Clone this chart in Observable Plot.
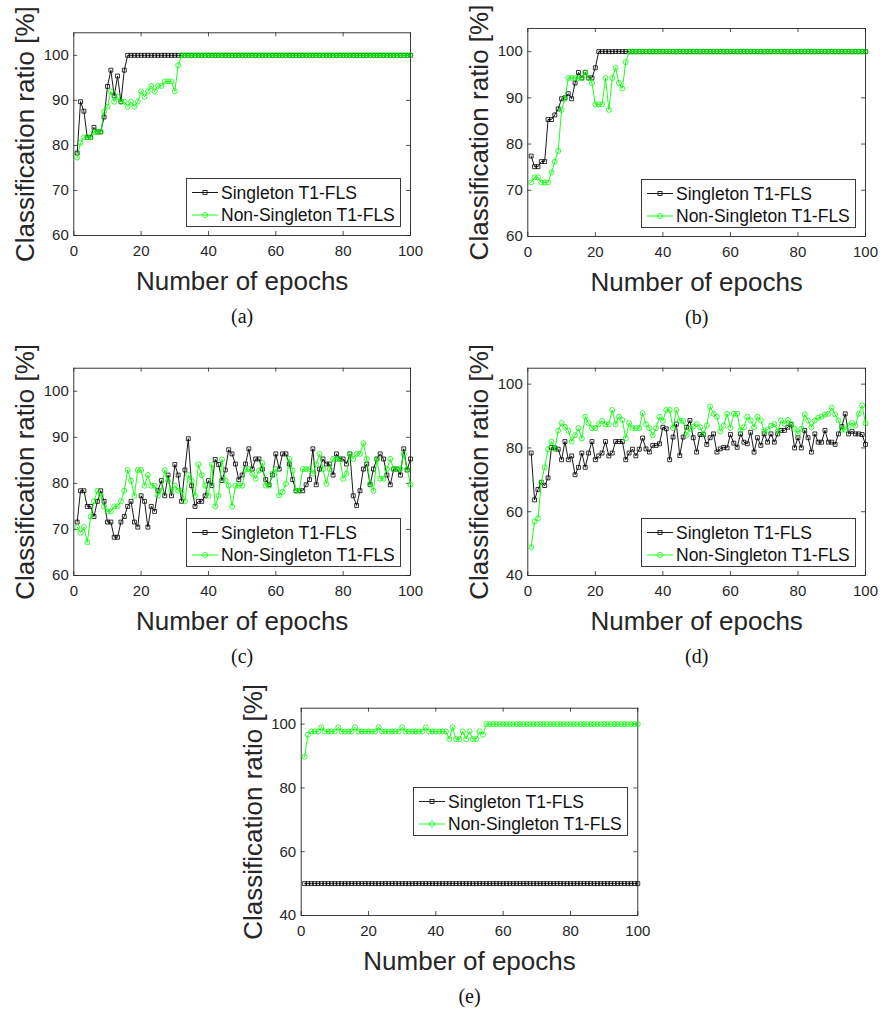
<!DOCTYPE html>
<html><head><meta charset="utf-8">
<script src="https://cdn.jsdelivr.net/npm/d3@7"></script>
<script src="https://cdn.jsdelivr.net/npm/@observablehq/plot@0.6"></script>
<style>
body{margin:0;background:#fff;}
#fig{position:relative;width:880px;height:1015px;overflow:hidden;background:#fff;}
#fig svg{position:absolute;}
</style></head><body><div id="fig"></div>
<script>
const epochs = d3.range(1, 101);
const xTicks = [0, 20, 40, 60, 80, 100];
const yTicksHigh = [60, 70, 80, 90, 100];
const yTicksWide = [40, 60, 80, 100];
const seriesNames = ["Singleton T1-FLS", "Non-Singleton T1-FLS"];
const panelLabels = ["(a)", "(b)", "(c)", "(d)", "(e)"];
const xLabel = "Number of epochs";
const yLabel = "Classification ratio [%]";

const aSingleton = [
78.3,89.7,87.6,81.8,81.8,84.0,83.0,83.0,86.3,93.1,
96.7,91.0,95.4,89.7,96.7,100,100,100,100,100,
100,100,100,100,100,100,100,100,100,100,
100,100,100,100,100,100,100,100,100,100,
100,100,100,100,100,100,100,100,100,100,
100,100,100,100,100,100,100,100,100,100,
100,100,100,100,100,100,100,100,100,100,
100,100,100,100,100,100,100,100,100,100,
100,100,100,100,100,100,100,100,100,100,
100,100,100,100,100,100,100,100,100,100];
const aNonSingleton = [
77.3,80.6,81.8,81.8,81.8,83.0,83.0,83.0,87.5,88.6,
92.0,89.7,90.8,89.7,89.7,88.6,89.7,88.6,89.7,92.0,
90.8,92.0,93.2,92.0,93.2,93.2,94.2,94.2,94.2,92.0,
97.8,100,100,100,100,100,100,100,100,100,
100,100,100,100,100,100,100,100,100,100,
100,100,100,100,100,100,100,100,100,100,
100,100,100,100,100,100,100,100,100,100,
100,100,100,100,100,100,100,100,100,100,
100,100,100,100,100,100,100,100,100,100,
100,100,100,100,100,100,100,100,100,100];
const bSingleton = [
77.4,75.1,75.1,76.2,76.2,85.3,85.3,86.3,87.6,89.8,
90.0,90.9,89.8,93.2,95.5,94.3,95.5,94.3,94.3,96.5,
100,100,100,100,100,100,100,100,100,100,
100,100,100,100,100,100,100,100,100,100,
100,100,100,100,100,100,100,100,100,100,
100,100,100,100,100,100,100,100,100,100,
100,100,100,100,100,100,100,100,100,100,
100,100,100,100,100,100,100,100,100,100,
100,100,100,100,100,100,100,100,100,100,
100,100,100,100,100,100,100,100,100,100];
const bNonSingleton = [
71.7,72.8,72.8,71.7,71.7,71.7,73.9,76.2,78.5,87.4,
89.8,94.3,94.3,94.3,94.3,94.3,95.5,94.3,93.2,88.6,
88.6,88.6,94.3,87.4,94.3,96.5,93.2,92.0,97.7,100,
100,100,100,100,100,100,100,100,100,100,
100,100,100,100,100,100,100,100,100,100,
100,100,100,100,100,100,100,100,100,100,
100,100,100,100,100,100,100,100,100,100,
100,100,100,100,100,100,100,100,100,100,
100,100,100,100,100,100,100,100,100,100,
100,100,100,100,100,100,100,100,100,100];
const cSingleton = [
71.6,78.4,78.4,75.0,75.0,72.8,76.1,78.4,76.1,71.6,
71.6,68.3,68.3,71.6,72.8,75.0,76.1,71.6,70.5,77.3,
76.1,70.5,75.0,73.9,78.4,80.6,77.3,81.8,77.3,84.1,
81.8,76.1,82.9,89.7,79.5,75.0,76.1,76.1,77.3,80.6,
79.5,85.2,84.1,80.6,82.9,87.3,86.4,84.2,80.8,81.8,
84.2,87.5,83.1,85.3,85.3,83.1,80.8,79.7,81.8,86.4,
83.1,86.4,86.4,84.2,80.8,78.4,78.4,78.4,79.7,80.8,
87.5,79.7,83.1,85.3,84.2,84.2,81.8,86.4,85.3,85.3,
84.2,86.4,77.3,75.2,78.4,83.1,84.2,79.7,83.1,85.3,
86.4,85.3,81.8,79.7,83.1,83.1,81.8,87.5,82.9,85.3];
const cNonSingleton = [
70.5,69.3,70.5,67.2,72.8,76.1,78.4,77.3,75.0,73.9,
73.9,75.0,75.0,76.1,78.4,82.9,80.6,77.3,82.9,82.9,
79.5,81.8,79.5,79.5,77.3,78.4,82.9,80.6,78.4,79.5,
78.4,78.4,76.1,81.8,80.6,77.3,84.1,81.8,79.5,77.3,
84.1,75.0,77.3,85.2,80.6,79.5,75.0,79.5,79.5,79.5,
83.0,83.1,82.1,81.0,82.8,84.4,79.5,79.5,82.1,83.1,
77.4,78.1,79.9,85.3,82.8,78.4,78.4,83.1,83.1,83.1,
82.1,84.2,86.4,83.1,79.9,83.1,85.3,85.3,85.3,81.0,
82.1,86.4,85.3,86.4,86.4,88.7,85.3,79.9,78.4,85.3,
81.0,81.0,83.1,85.3,83.1,83.1,83.1,86.4,83.1,79.7];
const dSingleton = [
78.4,63.7,67.0,69.2,68.2,70.6,80.1,80.0,79.6,76.3,
82.0,76.3,77.5,71.6,73.9,78.4,73.9,78.4,82.0,76.3,
77.5,78.4,82.0,77.5,78.4,82.0,82.0,82.0,76.3,78.4,
79.6,77.5,79.6,83.1,79.7,78.7,80.8,80.8,81.3,86.5,
86.0,76.3,83.4,87.5,77.6,83.4,86.5,88.6,83.2,78.7,
84.2,84.2,81.1,83.2,84.4,78.7,79.7,80.2,80.0,84.2,
81.5,80.2,84.4,81.8,81.3,84.9,78.7,83.2,80.8,84.4,
81.8,84.4,81.8,84.4,85.5,85.5,86.5,87.3,80.0,83.2,
80.0,85.5,83.2,78.7,84.4,81.8,81.8,85.5,81.8,81.8,
81.1,84.4,86.7,90.7,84.4,85.2,84.4,84.4,84.2,81.1];
const dNonSingleton = [
48.9,56.9,57.9,69.2,73.9,79.6,82.0,79.6,85.4,87.8,
86.6,85.4,82.0,84.0,86.2,83.0,89.8,87.8,86.2,86.2,
87.4,88.5,87.4,87.4,91.9,87.4,89.8,88.8,83.0,87.8,
86.2,86.2,86.2,90.9,87.4,86.2,84.0,86.2,89.8,88.5,
91.9,91.9,86.2,91.9,88.5,88.5,84.0,86.0,86.7,87.5,
86.5,84.4,87.0,93.0,90.7,89.8,85.2,87.0,90.7,86.3,
90.7,90.7,85.5,86.5,89.8,88.6,86.5,89.8,88.6,85.2,
85.7,87.0,87.5,85.2,88.6,87.5,88.8,87.5,86.0,84.4,
86.0,90.5,88.6,86.5,88.6,89.4,89.8,90.5,90.7,92.6,
90.5,88.6,85.7,85.7,87.0,87.8,87.0,90.7,93.3,87.7];
const eSingleton = [
50,50,50,50,50,50,50,50,50,50,
50,50,50,50,50,50,50,50,50,50,
50,50,50,50,50,50,50,50,50,50,
50,50,50,50,50,50,50,50,50,50,
50,50,50,50,50,50,50,50,50,50,
50,50,50,50,50,50,50,50,50,50,
50,50,50,50,50,50,50,50,50,50,
50,50,50,50,50,50,50,50,50,50,
50,50,50,50,50,50,50,50,50,50,
50,50,50,50,50,50,50,50,50,50];
const eNonSingleton = [
89.8,96.7,97.7,97.7,97.7,99.0,97.7,97.7,97.7,97.7,
99.0,97.7,97.7,97.7,97.7,99.0,97.7,97.7,97.7,97.7,
97.7,97.7,99.0,97.7,97.7,97.7,97.7,97.7,97.7,99.0,
97.7,97.7,97.7,97.7,97.7,97.7,99.0,97.7,97.7,97.7,
97.7,97.7,97.7,95.3,99.0,95.3,95.3,97.7,95.3,97.7,
95.3,95.3,97.7,96.7,100,100,100,100,100,100,
100,100,100,100,100,100,100,100,100,100,
100,100,100,100,100,100,100,100,100,100,
100,100,100,100,100,100,100,100,100,100,
100,100,100,100,100,100,100,100,100,100];

const INK = "#262626";
const SANS = "'Liberation Sans', Arial, Helvetica, sans-serif";
const SERIF = "'Liberation Serif', 'DejaVu Serif', serif";
const GREEN = "#00ff00";

const panels = [
  {label: panelLabels[0], left: 0, top: 0, width: 440, height: 335, ml: 73.3, mr: 30, mt: 32.3, mb: 100, yDomain: [60, 105], yTicks: yTicksHigh, s: aSingleton, n: aNonSingleton, legend: "bottom"},
  {label: panelLabels[1], left: 440, top: 0, width: 440, height: 335, ml: 87.3, mr: 15, mt: 28, mb: 99, yDomain: [60, 105], yTicks: yTicksHigh, s: bSingleton, n: bNonSingleton, legend: "bottom"},
  {label: panelLabels[2], left: 0, top: 335, width: 440, height: 340, ml: 73.3, mr: 30, mt: 32.7, mb: 100, yDomain: [60, 105], yTicks: yTicksHigh, s: cSingleton, n: cNonSingleton, legend: "bottom"},
  {label: panelLabels[3], left: 440, top: 335, width: 440, height: 340, ml: 87.3, mr: 15, mt: 32.7, mb: 100, yDomain: [40, 105], yTicks: yTicksWide, s: dSingleton, n: dNonSingleton, legend: "bottom"},
  {label: panelLabels[4], left: 210, top: 675, width: 440, height: 340, ml: 90.7, mr: 12.7, mt: 32.7, mb: 100, yDomain: [40, 105], yTicks: yTicksWide, s: eSingleton, n: eNonSingleton, legend: "middle"}
];

const fig = document.getElementById("fig");

function legendSvg(x, y) {
  const w = 215, h = 49;
  const ns = "http://www.w3.org/2000/svg";
  const svg = document.createElementNS(ns, "svg");
  svg.setAttribute("width", w); svg.setAttribute("height", h);
  svg.style.left = x + "px"; svg.style.top = y + "px";
  const fam = SANS.replace(/'/g, "");
  svg.innerHTML = `
    <rect x="0.5" y="0.5" width="${w - 1}" height="${h - 1}" fill="#fff" stroke="${INK}" stroke-width="0.9"/>
    <line x1="6" x2="32" y1="14.5" y2="14.5" stroke="#000" stroke-width="0.9"/>
    <rect x="17" y="12.5" width="4" height="4" fill="none" stroke="#000" stroke-width="0.8"/>
    <text x="35" y="14.5" dy="0.35em" font-family="${fam}" font-size="17.5" fill="#111">${seriesNames[0]}</text>
    <line x1="6" x2="32" y1="37" y2="37" stroke="${GREEN}" stroke-width="0.9"/>
    <circle cx="19" cy="37" r="2.5" fill="none" stroke="${GREEN}" stroke-width="0.8"/>
    <text x="35" y="37" dy="0.35em" font-family="${fam}" font-size="17.5" fill="#111">${seriesNames[1]}</text>`;
  return svg;
}

for (const p of panels) {
  const rowsS = p.s.map((v, i) => ({epoch: epochs[i], value: v, series: seriesNames[0]}));
  const rowsN = p.n.map((v, i) => ({epoch: epochs[i], value: v, series: seriesNames[1]}));
  const fw = p.width - p.ml - p.mr;
  const fh = p.height - p.mt - p.mb;
  const tk = 4;
  const chart = Plot.plot({
    width: p.width, height: p.height,
    marginLeft: p.ml, marginRight: p.mr, marginTop: p.mt, marginBottom: p.mb,
    style: {background: "transparent", fontFamily: SANS, color: INK, overflow: "visible"},
    x: {domain: [0, 100]},
    y: {domain: p.yDomain},
    marks: [
      Plot.frame({stroke: INK, strokeWidth: 0.9}),
      Plot.tickX(xTicks, {x: d => d, stroke: INK, strokeWidth: 0.8, insetTop: fh - tk}),
      Plot.tickX(xTicks, {x: d => d, stroke: INK, strokeWidth: 0.8, insetBottom: fh - tk}),
      Plot.tickY(p.yTicks, {y: d => d, stroke: INK, strokeWidth: 0.8, insetRight: fw - tk}),
      Plot.tickY(p.yTicks, {y: d => d, stroke: INK, strokeWidth: 0.8, insetLeft: fw - tk}),
      Plot.axisX({ticks: xTicks, tickSize: 0, tickPadding: 10, fontSize: 15, label: null}),
      Plot.axisY({ticks: p.yTicks, tickSize: 0, tickPadding: 5, fontSize: 15, label: null}),
      Plot.line(rowsS, {x: "epoch", y: "value", stroke: "#000", strokeWidth: 0.9}),
      Plot.dot(rowsS, {x: "epoch", y: "value", symbol: "square", r: 2.2, stroke: "#000", fill: "none", strokeWidth: 0.8}),
      Plot.line(rowsN, {x: "epoch", y: "value", stroke: GREEN, strokeWidth: 0.9}),
      Plot.dot(rowsN, {x: "epoch", y: "value", symbol: "circle", r: 2.5, stroke: GREEN, fill: "none", strokeWidth: 0.8}),
      Plot.text([xLabel], {text: d => d, frameAnchor: "bottom", textAnchor: "middle", lineAnchor: "bottom", dy: 54, fontSize: 26, fill: INK}),
      Plot.text([yLabel], {text: d => d, frameAnchor: "left", textAnchor: "middle", lineAnchor: "middle", rotate: -90, dx: -48, fontSize: 26, fill: INK}),
      Plot.text([p.label], {text: d => d, frameAnchor: "bottom", textAnchor: "middle", dy: 87, fontSize: 20, fontFamily: SERIF, fill: "#111"})
    ]
  });
  chart.style.left = p.left + "px";
  chart.style.top = p.top + "px";
  fig.appendChild(chart);
  const frameRight = p.left + p.width - p.mr;
  const frameBottom = p.top + p.height - p.mb;
  const lx = frameRight - 9 - 215;
  const ly = p.legend === "bottom" ? frameBottom - 8.3 - 49 : p.top + p.mt + 79;
  fig.appendChild(legendSvg(lx, ly));
}
</script></body></html>
